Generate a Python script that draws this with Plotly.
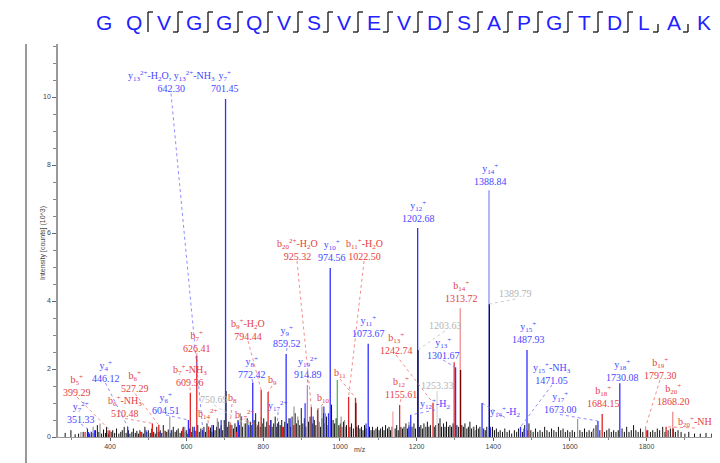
import plotly.graph_objects as go

# ---------------- data ----------------
sequence = list("GQVGGQVSVEVDSAPGTDLAK")
# separator after each residue: 0 none, 1 top hook (y ion), 2 both hooks, 3 bottom hook (b ion)
sep_types = [0, 1, 2, 2, 2, 2, 2, 2, 2, 2, 2, 2, 2, 2, 2, 2, 2, 2, 3, 3]

# annotated peaks (m/z, intensity in 10^3 counts, kind, label)
ann_mz = [642.30, 701.45, 351.33, 399.29, 446.12, 510.48, 527.29, 604.51, 609.56, 626.41,
          750.69, 713.36, 657.30, 784.90, 794.44, 812.43, 772.42, 836.90, 859.52, 914.89,
          925.32, 941.47, 974.56, 1040.54, 1022.50, 1073.67, 1202.68, 1203.63, 1155.61, 1242.74,
          1253.33, 1184.60, 1301.67, 1313.72, 1389.79, 1388.84, 1370.70, 1487.93, 1471.05, 1673.00,
          1684.15, 1730.08, 1797.30, 1868.20, 1850.90]
ann_int = [0.20, 9.94, 0.15, 0.20, 0.30, 0.40, 0.35, 0.50, 1.30, 2.40,
           0.40, 0.35, 0.30, 0.35, 1.38, 1.32, 1.60, 0.40, 2.44, 1.53,
           0.88, 0.80, 4.97, 1.15, 1.18, 2.74, 6.15, 2.56, 0.94, 1.00,
           1.30, 0.65, 2.05, 3.79, 3.91, 7.26, 1.00, 2.56, 0.30, 0.47,
           0.68, 1.58, 0.30, 0.74, 0.30]
ann_kind = ["y", "y", "y", "b", "y", "b", "b", "y", "b", "b",
            "gr", "b", "b", "b", "b", "b", "y", "y", "y", "yp",
            "b", "b", "y", "b", "b", "y", "y", "nv", "b", "b",
            "lg", "y", "y", "bl", "nv", "yl", "y", "y", "y", "y",
            "b", "y", "bl", "bl", "b"]
ann_text = [
    "y<sub>13</sub><sup>2+</sup>-H<sub>2</sub>O, y<sub>13</sub><sup>2+</sup>-NH<sub>3</sub><br>642.30",
    "y<sub>7</sub><sup>+</sup><br>701.45",
    "y<sub>7</sub><sup>2+</sup><br>351.33",
    "b<sub>5</sub><sup>+</sup><br>399.29",
    "y<sub>4</sub><sup>+</sup><br>446.12",
    "b<sub>6</sub><sup>+</sup>-NH<sub>3</sub><br>510.48",
    "b<sub>6</sub><sup>+</sup><br>527.29",
    "y<sub>6</sub><sup>+</sup><br>604.51",
    "b<sub>7</sub><sup>+</sup>-NH<sub>3</sub><br>609.56",
    "b<sub>7</sub><sup>+</sup><br>626.41",
    "750.69",
    "b<sub>8</sub>",
    "b<sub>14</sub><sup>2+</sup>",
    "b<sub>17</sub><sup>2+</sup>",
    "b<sub>9</sub><sup>+</sup>-H<sub>2</sub>O<br>794.44",
    "b<sub>9</sub>",
    "y<sub>8</sub><sup>+</sup><br>772.42",
    "y<sub>17</sub><sup>2+</sup>",
    "y<sub>9</sub><sup>+</sup><br>859.52",
    "y<sub>19</sub><sup>2+</sup><br>914.89",
    "b<sub>20</sub><sup>2+</sup>-H<sub>2</sub>O<br>925.32",
    "b<sub>10</sub>",
    "y<sub>10</sub><sup>+</sup><br>974.56",
    "b<sub>11</sub>",
    "b<sub>11</sub><sup>+</sup>-H<sub>2</sub>O<br>1022.50",
    "y<sub>11</sub><sup>+</sup><br>1073.67",
    "y<sub>12</sub><sup>+</sup><br>1202.68",
    "1203.63",
    "b<sub>12</sub><sup>+</sup><br>1155.61",
    "b<sub>13</sub><sup>+</sup><br>1242.74",
    "1253.33",
    "y<sub>12</sub><sup>+</sup>-H<sub>2</sub>",
    "y<sub>13</sub><sup>+</sup><br>1301.67",
    "b<sub>14</sub><sup>+</sup><br>1313.72",
    "1389.79",
    "y<sub>14</sub><sup>+</sup><br>1388.84",
    "y<sub>14</sub><sup>+</sup>-H<sub>2</sub>",
    "y<sub>15</sub><sup>+</sup><br>1487.93",
    "y<sub>15</sub><sup>+</sup>-NH<sub>3</sub><br>1471.05",
    "y<sub>17</sub><sup>+</sup><br>1673.00",
    "b<sub>18</sub><sup>+</sup><br>1684.15",
    "y<sub>18</sub><sup>+</sup><br>1730.08",
    "b<sub>19</sub><sup>+</sup><br>1797.30",
    "b<sub>20</sub><sup>+</sup><br>1868.20",
    "b<sub>20</sub><sup>+</sup>-NH",
]

# other coloured (matched but unlabelled) peaks
other_mz = [1297.90, 1314.60, 1041.50, 1869.20, 993.00, 1138.00, 909.00, 958.00, 970.00, 930.00,
            870.00, 820.00, 690.00, 735.00, 666.00, 620.00, 762.00, 344.00, 360.00, 494.00,
            530.00, 560.00, 1068.00, 1392.00, 1480.00, 335.00, 395.00, 480.00, 540.00, 590.00,
            730.00, 850.00, 880.00, 1000.00, 1490.00, 1800.00, 1180.00, 1255.00]
other_int = [2.20, 1.97, 1.00, 0.25, 1.68, 0.75, 0.99, 0.90, 0.70, 0.60,
             0.55, 0.50, 0.50, 0.45, 0.35, 0.30, 0.35, 0.15, 0.20, 0.20,
             0.15, 0.20, 0.40, 0.30, 0.25, 0.15, 0.20, 0.15, 0.20, 0.25,
             0.15, 0.30, 0.35, 0.30, 0.20, 0.20, 0.30, 0.35]
other_kind = ["b", "dr", "dr", "dr", "g", "pk", "y", "y", "y", "y",
              "y", "y", "y", "y", "y", "y", "y", "y", "y", "y",
              "y", "y", "y", "y", "y", "b", "b", "b", "b", "b",
              "b", "b", "b", "b", "b", "b", "y", "pk"]

# unassigned gray peaks
gray_mz = [324, 356, 374, 556, 595, 680, 715, 740, 760, 795, 880, 890, 943, 953, 962,
           1003, 1012, 1137, 1180, 1220, 1350, 1620, 1660]
gray_int = [0.15, 0.30, 0.40, 0.60, 0.30, 0.55, 0.40, 0.70, 0.50, 0.60, 0.90, 0.60, 0.85, 0.90, 0.70,
            0.60, 0.50, 0.20, 0.45, 0.35, 0.30, 0.53, 0.20]

# unassigned black noise peaks
noise_mz = [283, 298, 309, 318, 330, 341, 347, 356, 362, 367, 371, 378, 383, 388, 391, 396, 403, 407,
            412, 417, 423, 428, 432, 437, 442, 448, 452, 457, 461, 466, 470, 474, 478, 483, 487, 491,
            496, 500, 505, 509, 514, 518, 522, 526, 531, 535, 539, 544, 548, 552, 557, 561, 565, 570,
            574, 578, 583, 587, 591, 595, 599, 603, 607, 612, 616, 620, 624, 629, 633, 637, 641, 645,
            649, 653, 658, 662, 666, 670, 674, 678, 682, 686, 690, 694, 698, 703, 706, 710, 714, 718,
            722, 726, 730, 734, 738, 742, 746, 754, 758, 762, 766, 770, 776, 780, 784, 788, 792, 797,
            801, 805, 809, 815, 819, 823, 827, 831, 835, 840, 844, 848, 852, 856, 863, 867, 871, 875,
            879, 883, 887, 891, 895, 899, 903, 907, 911, 918, 922, 929, 933, 937, 945, 949, 953, 957,
            961, 965, 969, 978, 982, 986, 990, 997, 1001, 1005, 1009, 1013, 1017, 1026, 1030, 1035,
            1044, 1048, 1052, 1056, 1060, 1064, 1068, 1077, 1081, 1085, 1089, 1094, 1098, 1102, 1106,
            1111, 1115, 1119, 1124, 1128, 1132, 1136, 1144, 1148, 1152, 1159, 1163, 1167, 1172, 1176,
            1180, 1188, 1193, 1197, 1207, 1211, 1215, 1219, 1224, 1228, 1232, 1236, 1246, 1250, 1257,
            1261, 1265, 1270, 1274, 1278, 1283, 1287, 1291, 1295, 1305, 1309, 1318, 1322, 1326, 1331,
            1335, 1339, 1343, 1348, 1352, 1356, 1361, 1365, 1375, 1379, 1383, 1393, 1398, 1403, 1408,
            1413, 1418, 1424, 1430, 1436, 1442, 1448, 1455, 1461, 1466, 1476, 1482, 1493, 1498, 1504,
            1510, 1516, 1522, 1528, 1534, 1540, 1546, 1552, 1558, 1564, 1570, 1576, 1582, 1588, 1594,
            1600, 1606, 1612, 1626, 1632, 1638, 1644, 1650, 1656, 1662, 1668, 1678, 1690, 1696, 1702,
            1708, 1714, 1720, 1726, 1736, 1742, 1748, 1754, 1760, 1766, 1772, 1778, 1784, 1790, 1803,
            1810, 1816, 1822, 1828, 1834, 1842, 1848, 1856, 1862, 1875, 1882, 1890, 1900, 1910, 1925,
            1940, 1955, 1970, 1985]
noise_int = [0.12, 0.20, 0.08, 0.10, 0.15, 0.25, 0.10, 0.12, 0.20, 0.35, 0.15, 0.10, 0.22, 0.12, 0.30, 0.10, 0.15, 0.20,
             0.12, 0.25, 0.10, 0.15, 0.20, 0.30, 0.12, 0.20, 0.10, 0.15, 0.25, 0.12, 0.18, 0.10, 0.20, 0.15, 0.10, 0.30,
             0.15, 0.20, 0.12, 0.25, 0.15, 0.10, 0.30, 0.15, 0.20, 0.12, 0.35, 0.18, 0.15, 0.22, 0.12, 0.20, 0.30, 0.15,
             0.20, 0.25, 0.12, 0.18, 0.30, 0.15, 0.20, 0.10, 0.25, 0.15, 0.30, 0.20, 0.18, 0.35, 0.15, 0.25, 0.20, 0.30,
             0.15, 0.40, 0.20, 0.28, 0.15, 0.35, 0.20, 0.30, 0.45, 0.25, 0.35, 0.20, 0.50, 1.35, 0.30, 0.45, 0.20, 0.35,
             0.25, 0.40, 0.30, 0.50, 0.35, 0.60, 0.30, 0.40, 0.55, 0.30, 0.45, 0.35, 0.50, 0.70, 0.30, 0.45, 0.30, 0.40,
             0.55, 0.30, 0.45, 0.35, 0.50, 0.30, 0.40, 0.60, 0.30, 0.45, 0.35, 0.50, 0.30, 0.45, 0.40, 0.55, 0.30, 0.60,
             0.35, 0.70, 0.40, 0.50, 0.35, 0.85, 0.40, 0.55, 0.30, 0.45, 0.60, 0.40, 0.50, 0.35, 0.45, 0.30, 0.55, 0.70,
             0.40, 0.60, 0.35, 0.95, 0.50, 0.40, 0.55, 0.35, 0.40, 0.30, 0.45, 0.30, 0.35, 0.30, 0.40, 0.25,
             0.30, 0.35, 0.25, 0.30, 0.20, 0.35, 0.25, 0.30, 0.20, 0.30, 0.20, 0.25, 0.30, 0.20, 0.25,
             0.30, 0.20, 0.35, 0.25, 0.30, 0.20, 0.30, 0.25, 0.35, 0.20, 0.30, 0.25, 0.30, 0.40, 0.25,
             0.35, 0.30, 0.40, 0.25, 0.30, 0.35, 0.25, 0.40, 0.30, 0.45, 0.30, 0.35, 0.30, 0.35, 0.40,
             0.55, 0.30, 0.40, 0.30, 0.45, 0.30, 0.35, 0.30, 0.40, 0.35, 0.30, 0.35, 0.30, 0.40, 0.25,
             0.30, 0.45, 0.25, 0.30, 0.20, 0.35, 0.25, 0.30, 0.25, 0.20, 0.30, 0.25, 0.30, 0.20, 0.25,
             0.15, 0.20, 0.15, 0.25, 0.15, 0.20, 0.10, 0.20, 0.15, 0.25, 0.15, 0.35, 0.40, 0.20, 0.15,
             0.25, 0.15, 0.20, 0.15, 0.30, 0.20, 0.15, 0.25, 0.20, 0.15, 0.30, 0.20, 0.25, 0.15, 0.20,
             0.15, 0.20, 0.15, 0.20, 0.15, 0.25, 0.15, 0.20, 0.15, 0.25, 0.35, 0.20, 0.15, 0.20, 0.25,
             0.15, 0.20, 0.15, 0.20, 0.25, 0.15, 0.30, 0.15, 0.20, 0.35, 0.20, 0.15, 0.25, 0.15, 0.20,
             0.15, 0.20, 0.15, 0.25, 0.20, 0.30, 0.15, 0.20, 0.25, 0.15, 0.20, 0.15, 0.10, 0.15, 0.10,
             0.10, 0.12, 0.10, 0.10]

x_ticks = [400, 600, 800, 1000, 1200, 1400, 1600, 1800, 2000]
y_ticks = [0, 2, 4, 6, 8, 10]

# ---------------- layout / style ----------------
OFF = 8                      # page body margin offset in the browser
W, H = 720 - OFF, 463 - OFF
PL, PT, PW, PH = 58, 44, 662, 393   # plot area in window pixels
X0, X1 = 264.3, 1991.5
Y1 = PH / 34.0

def px2mz(px):
    return X0 + (px - PL) / PW * (X1 - X0)

def py2h(py):
    return (PT + PH - py) / PH * Y1

def pxp(px):
    return (px - PL) / PW

def pyp(py):
    return (PT + PH - py) / PH

# label centre positions in window pixels (layout)
label_px = [171, 225, 81, 77, 105.5, 125, 135, 166, 190, 197,
            214, 232, 208, 245, 248, 272, 252, 278, 287, 307.5,
            297, 323, 332, 340, 364, 368, 418, 445, 401, 396,
            437, 435, 443, 461, 515.5, 490, 505, 528, 552, 560,
            603, 622, 660, 673, 695]
label_py = [81.5, 81.5, 412, 385, 371, 406.5, 381.5, 403, 375.5, 341,
            399, 398, 414, 415, 329, 380, 367, 406, 336, 367.5,
            249, 398, 250.5, 373, 249, 326, 211, 325, 387, 343,
            385, 404, 348, 291.5, 293, 174, 411.5, 332.5, 373, 402.5,
            396.5, 370.5, 368, 394, 422]
leader_on = [True, False, True, True, True, True, True, True, True, True,
             True, True, True, True, True, True, True, True, True, True,
             True, True, False, True, True, False, False, True, True, True,
             True, True, True, False, True, False, True, False, True, True,
             False, False, True, False, True]

line_col = {"y": "#3030ff", "yl": "#8c8cff", "yp": "#b08ad8", "b": "#e02424", "bl": "#f08c8c",
            "nv": "#101050", "gr": "#9a9a9a", "lg": "#d8d8d8", "dr": "#7a0000", "g": "#3cb83c",
            "pk": "#f4a0a0", "gray": "#9a9a9a", "noise": "#111111"}
text_col = {"y": "#4646ff", "yl": "#4646ff", "yp": "#4646ff", "b": "#e64040", "bl": "#e64040",
            "nv": "#b4b4b4", "gr": "#b4b4b4", "lg": "#b4b4b4"}
lead_col = {"y": "#7070ff", "yl": "#7070ff", "yp": "#7070ff", "b": "#f07070", "bl": "#f07070",
            "nv": "#c0c0c0", "gr": "#c0c0c0", "lg": "#c0c0c0"}

fig = go.Figure()

def add_sticks(mzs, ints, color, width=1.1, opacity=1.0):
    xs, ys = [], []
    for m, v in zip(mzs, ints):
        xs += [m, m, None]
        ys += [0, v, None]
    fig.add_trace(go.Scatter(x=xs, y=ys, mode="lines", line=dict(color=color, width=width),
                             opacity=opacity, hoverinfo="skip", showlegend=False))

add_sticks(noise_mz, noise_int, line_col["noise"], 1.0)
add_sticks(gray_mz, gray_int, line_col["gray"], 1.2)

for kind in ["y", "b", "g", "pk"]:
    sel = [(m, v) for m, v, k in zip(other_mz, other_int, other_kind) if k == kind]
    if sel:
        add_sticks([s[0] for s in sel], [s[1] for s in sel], line_col[kind], 1.2)

order = sorted(range(len(ann_mz)), key=lambda i: -ann_int[i])
for i in order:
    add_sticks([ann_mz[i]], [ann_int[i]], line_col[ann_kind[i]], 1.3)

sel = [(m, v) for m, v, k in zip(other_mz, other_int, other_kind) if k == "dr"]
add_sticks([s[0] for s in sel], [s[1] for s in sel], line_col["dr"], 1.3)

annotations = []
for i in range(len(ann_mz)):
    k = ann_kind[i]
    nl = ann_text[i].count("<br>") + 1
    if leader_on[i]:
        by = label_py[i] + nl * 6.0
        fig.add_trace(go.Scatter(x=[px2mz(label_px[i]), ann_mz[i]], y=[py2h(by), ann_int[i]],
                                 mode="lines", line=dict(color=lead_col[k], width=0.8, dash="dot"),
                                 hoverinfo="skip", showlegend=False))
    annotations.append(dict(x=px2mz(label_px[i]), y=py2h(label_py[i]), xref="x", yref="y",
                            text=ann_text[i], showarrow=False, xanchor="center", yanchor="middle",
                            font=dict(family="Liberation Serif", size=10, color=text_col[k])))

# peptide sequence
shapes = []
LX0, LSP, LY = 104, 30.0, 22
for i, aa in enumerate(sequence):
    annotations.append(dict(x=pxp(LX0 + LSP * i), y=pyp(LY), xref="paper", yref="paper",
                            text=aa, showarrow=False, xanchor="center", yanchor="middle",
                            font=dict(family="Liberation Sans", size=21, color="#2222ff")))
for i, st in enumerate(sep_types):
    if st == 0:
        continue
    sx = LX0 + LSP * i + 14
    top, bot = 12, 32
    ln = dict(color="#222222", width=1.4)
    if st == 3:
        shapes.append(dict(type="line", xref="paper", yref="paper", x0=pxp(sx), x1=pxp(sx),
                           y0=pyp(24), y1=pyp(bot), line=ln))
        shapes.append(dict(type="line", xref="paper", yref="paper", x0=pxp(sx - 5), x1=pxp(sx),
                           y0=pyp(bot), y1=pyp(bot), line=ln))
        continue
    shapes.append(dict(type="line", xref="paper", yref="paper", x0=pxp(sx), x1=pxp(sx),
                       y0=pyp(top), y1=pyp(bot), line=ln))
    shapes.append(dict(type="line", xref="paper", yref="paper", x0=pxp(sx), x1=pxp(sx + 5),
                       y0=pyp(top), y1=pyp(top), line=ln))
    if st == 2:
        shapes.append(dict(type="line", xref="paper", yref="paper", x0=pxp(sx - 5), x1=pxp(sx),
                           y0=pyp(bot), y1=pyp(bot), line=ln))

shapes.append(dict(type="line", xref="paper", yref="paper", x0=pxp(26), x1=pxp(26),
                   y0=pyp(44), y1=pyp(470), line=dict(color="#555555", width=1.2)))

annotations.append(dict(x=pxp(360), y=pyp(455), xref="paper", yref="paper", text="m/z",
                        showarrow=False, font=dict(family="Liberation Sans", size=7, color="#444444")))
annotations.append(dict(x=pxp(37), y=pyp(243), xref="paper", yref="paper",
                        text="Intensity [counts] (10^3)", textangle=-90, showarrow=False,
                        font=dict(family="Liberation Sans", size=7, color="#444444")))

fig.update_layout(
    width=W, height=H, autosize=False,
    margin=dict(l=PL - OFF, r=W - (PL - OFF) - PW, t=PT - OFF, b=H - (PT - OFF) - PH, pad=0),
    paper_bgcolor="white", plot_bgcolor="white",
    showlegend=False,
    annotations=annotations, shapes=shapes,
    xaxis=dict(range=[X0, X1], tickvals=x_ticks, ticktext=[str(v) for v in x_ticks],
               showgrid=False, zeroline=False, showline=True, linecolor="#9a9a9a", linewidth=1,
               ticks="outside", ticklen=3, tickcolor="#666666",
               minor=dict(dtick=100, tick0=0, ticks="outside", ticklen=2, tickcolor="#888888"),
               tickfont=dict(family="Liberation Sans", size=7, color="#444444")),
    yaxis=dict(range=[0, Y1], tickvals=y_ticks, ticktext=[str(v) for v in y_ticks],
               showgrid=False, zeroline=False, showline=True, linecolor="#9a9a9a", linewidth=1.5,
               ticks="outside", ticklen=4, tickcolor="#666666",
               minor=dict(dtick=0.5, tick0=0, ticks="outside", ticklen=3, tickcolor="#888888"),
               tickfont=dict(family="Liberation Sans", size=7, color="#444444")),
)

fig.write_html("out.html")
